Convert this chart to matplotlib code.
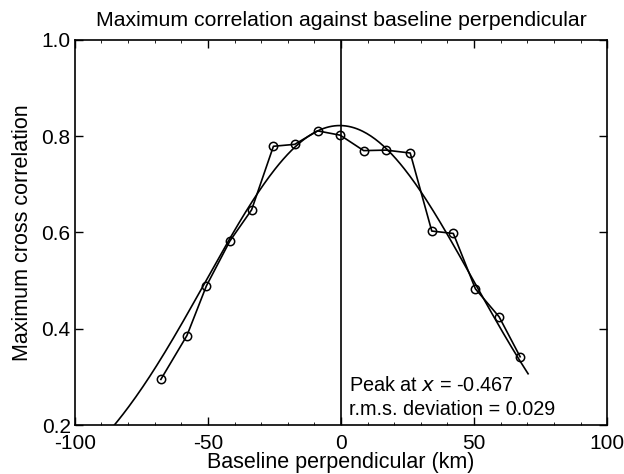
import numpy as np
import matplotlib
matplotlib.use("Agg")
import matplotlib.pyplot as plt
from matplotlib.ticker import MultipleLocator

plt.rcParams['font.family'] = ['Liberation Sans', 'DejaVu Sans']
plt.rcParams['axes.unicode_minus'] = False

# Measured points (baseline perpendicular in km, max cross correlation)
baseline_km = [-67.7, -57.9, -50.6, -41.8, -33.6, -25.4, -17.4, -8.8, -0.3,
               8.5, 16.9, 26.0, 34.1, 42.2, 50.5, 59.4, 67.3]
max_corr = [0.295, 0.386, 0.489, 0.582, 0.647, 0.779, 0.783, 0.811, 0.802,
            0.770, 0.771, 0.765, 0.603, 0.598, 0.483, 0.425, 0.342]

# Gaussian fit parameters
peak_x = -0.467
peak_y = 0.822
width = 50.4
rms_dev = 0.029

fig = plt.figure(figsize=(6.24, 4.74), dpi=100)
ax = fig.add_axes([0.120, 0.103, 0.853, 0.813])

# Fitted curve
xf = np.linspace(-86, 70.3, 300)
yf = peak_y * np.exp(-(xf - peak_x) ** 2 / (2 * width ** 2))
ax.plot(xf, yf, color='black', lw=1.2)

# Data
ax.plot(baseline_km, max_corr, color='black', lw=1.2, marker='o',
        markersize=6, markerfacecolor='none', markeredgewidth=1.1)

ax.axvline(0, color='black', lw=1.2)

ax.set_xlim(-100, 100)
ax.set_ylim(0.2, 1.0)
ax.xaxis.set_major_locator(MultipleLocator(50))
ax.xaxis.set_minor_locator(MultipleLocator(10))
ax.yaxis.set_major_locator(MultipleLocator(0.2))
ax.set_yticklabels([f"{v:.1f}" for v in ax.get_yticks()])
ax.tick_params(which='both', direction='in', top=True, right=True,
               labelsize=15)
ax.tick_params(axis='x', pad=6.5)
ax.tick_params(axis='y', pad=3)
ax.tick_params(which='major', length=6, width=1)
ax.tick_params(which='minor', length=2, width=0.6)
for s in ax.spines.values():
    s.set_linewidth(1.2)

ax.set_title("Maximum correlation against baseline perpendicular",
             fontsize=15.3, pad=10)
ax.set_xlabel("Baseline perpendicular (km)", fontsize=15.5, labelpad=-1)
ax.set_ylabel("Maximum cross correlation", fontsize=15.5, labelpad=6)

ax.text(3.0, 0.270, f"Peak at $\\it{{x}}$ = {peak_x}", fontsize=14.3,
        va='baseline')
ax.text(3.0, 0.221, f"r.m.s. deviation = {rms_dev:.3f}", fontsize=14.3,
        va='baseline')

fig.savefig("out.png", dpi=100)
